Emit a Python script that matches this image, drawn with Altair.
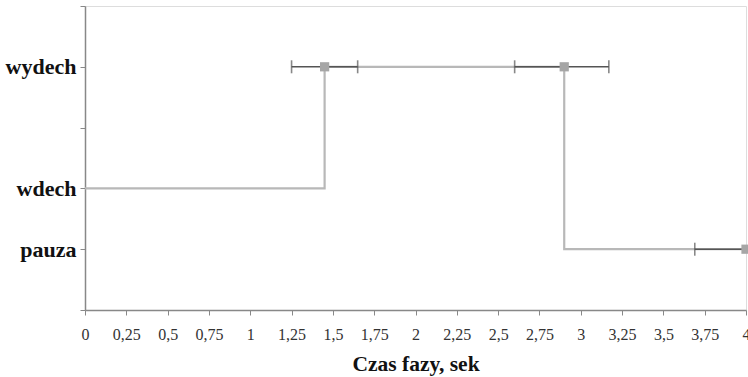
import altair as alt
import pandas as pd

# Breathing-phase timeline: phase level vs. time, with spread of transition times
step_x = [0.0, 1.45, 2.9, 4.0]
step_y = [2, 4, 1, 1]

point_x = [1.45, 2.9, 4.0]
point_y = [4, 4, 1]
err_lo = [1.25, 2.6, 3.69]
err_hi = [1.65, 3.17, 4.31]

y_ticks = [0, 1, 2, 3, 4, 5]
x_ticks = [0, 0.25, 0.5, 0.75, 1, 1.25, 1.5, 1.75, 2, 2.25, 2.5, 2.75, 3, 3.25, 3.5, 3.75, 4]

step_df = pd.DataFrame({"t": step_x, "faza": step_y})
pts_df = pd.DataFrame({"t": point_x, "faza": point_y, "lo": err_lo, "hi": err_hi})
caps_df = pd.DataFrame({
    "t": err_lo + err_hi,
    "faza": point_y + point_y,
})

FONT = "Times New Roman, Liberation Serif, serif"

x_scale = alt.Scale(domain=[0, 4], nice=False, zero=False)
y_scale = alt.Scale(domain=[0, 5], nice=False)

x_axis = alt.Axis(
    values=x_ticks,
    labelExpr="replace(toString(datum.value), '.', ',')",
    title="Czas fazy, sek",
    titleFont=FONT, titleFontSize=21.5, titleFontWeight="bold", titleColor="#111",
    titleBaseline="alphabetic", titleY=60,
    labelFont=FONT, labelFontSize=16, labelColor="#333", labelPadding=11,
    tickSize=5, tickColor="#888", domainColor="#888", domainWidth=1.5,
    grid=False, labelFlush=False, labelOverlap=False,
)
y_axis = alt.Axis(
    values=y_ticks,
    labelExpr="datum.value == 4 ? 'wydech' : datum.value == 2 ? 'wdech' : datum.value == 1 ? 'pauza' : ''",
    title=None,
    labelFont=FONT, labelFontSize=22, labelFontWeight="bold", labelColor="#111",
    labelPadding=4, labelBaseline="middle",
    tickSize=5, tickColor="#888", domainColor="#888", domainWidth=1.5,
    grid=False,
)

line = alt.Chart(step_df).mark_line(
    interpolate="step-after", color="#b8b8b8", strokeWidth=2.2
).encode(
    x=alt.X("t:Q", scale=x_scale, axis=x_axis),
    y=alt.Y("faza:Q", scale=y_scale, axis=y_axis),
)

bars = alt.Chart(pts_df).mark_rule(color="#555", strokeWidth=1.6, clip=True).encode(
    x="lo:Q", x2="hi:Q", y="faza:Q"
)

caps = alt.Chart(caps_df).mark_tick(
    orient="vertical", color="#555", thickness=1.6, size=13, clip=True
).encode(x="t:Q", y="faza:Q")

squares = alt.Chart(pts_df).mark_square(
    color="#a6a6a6", opacity=1, size=85, clip=False
).encode(x="t:Q", y="faza:Q")

chart = alt.layer(line, bars, caps, squares).properties(
    width=661, height=304,
    autosize=alt.AutoSizeParams(type="none"),
    padding={"left": 85, "top": 6, "right": 2, "bottom": 67},
).configure_view(stroke="#888", strokeWidth=1.5).configure(background="white")

chart.save("out.html", embed_options={"renderer": "svg", "actions": False})
